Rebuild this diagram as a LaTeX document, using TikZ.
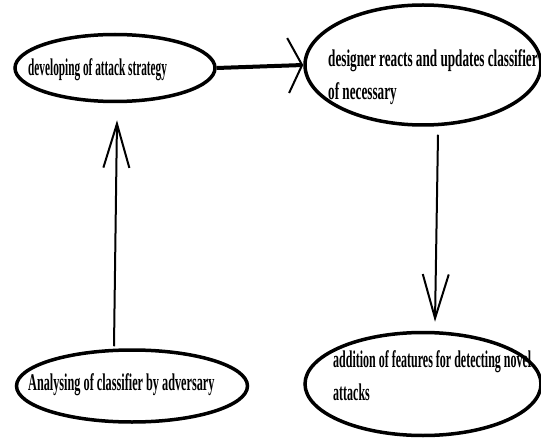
\documentclass[tikz,border=0pt]{standalone}
\usepackage{fontspec}
\setmainfont{Liberation Serif}
\newfontfamily\lblfont{Liberation Serif Bold}
\usetikzlibrary{arrows.meta,shapes.geometric}
\newcommand{\sq}[2]{\scalebox{#1}[1]{\begin{tabular}[b]{@{}l@{}}#2\end{tabular}}}
\begin{document}
\begin{tikzpicture}[x=1pt,y=-1pt,
  oval/.style={draw, ellipse, line width=3.5pt, inner sep=0pt},
  lbl/.style={font=\fontsize{24}{33}\lblfont, inner sep=0pt},
  conn/.style={line width=2pt},
  hhead/.style={-{Straight Barb[length=14pt,width=55pt,line width=2pt]}},
  vhead/.style={-{Straight Barb[length=44pt,width=26pt,line width=2pt]}}]
\useasboundingbox[fill=white] (0,0) rectangle (541,441);

\node[oval, minimum width=200pt, minimum height=67pt] (e1) at (115,68) {};
\node[oval, minimum width=236pt, minimum height=120pt] (e2) at (423,65) {};
\node[oval, minimum width=231pt, minimum height=72pt] (e3) at (132,386) {};
\node[oval, minimum width=236pt, minimum height=103pt] (e4) at (423,384) {};

\node[lbl, anchor=base west] (t1) at (28,76) {\sq{0.47}{developing of attack strategy}};
\node[lbl, anchor=base west] (t2) at (328,100) {\sq{0.55}{designer reacts and updates classifier\\of necessary}};
\node[lbl, anchor=base west] (t3) at (28,390) {\sq{0.51}{Analysing of classifier by adversary}};
\node[lbl, anchor=base west] (t4) at (333,400) {\sq{0.5}{addition of features for detecting novel\\attacks}};

\draw[line width=4pt, hhead] (e1.east) -- (e2.west);
\draw[conn, vhead] ([xshift=-18pt,yshift=2pt]e3.north) -- ([xshift=2pt,yshift=-17pt]e1.south);
\draw[conn, vhead] ([xshift=15pt,yshift=-8pt]e2.south) -- ([xshift=12pt,yshift=9pt]e4.north);
\end{tikzpicture}
\end{document}
